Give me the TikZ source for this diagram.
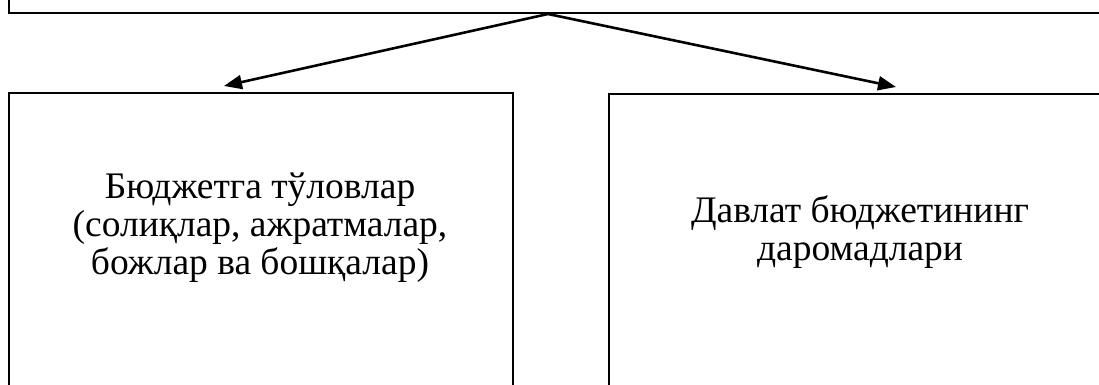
\documentclass[tikz,border=0pt]{standalone}
\usepackage{fontspec}
\setmainfont{Liberation Serif}
\usetikzlibrary{arrows.meta}
\tikzset{
  box/.style={draw=black, line width=2pt, fill=none, inner sep=0pt},
  txt/.style={align=center, font=\fontsize{37.5}{38}\selectfont, inner sep=0pt},
  arr/.style={line width=2.6pt, -{Triangle[length=18pt, width=14pt]}}
}
\begin{document}
\begin{tikzpicture}[x=1pt, y=-1pt]
\useasboundingbox (0,0) rectangle (1099,385);
\clip (0,0) rectangle (1099,385);
\node[box, minimum width=1200pt, minimum height=120pt, anchor=south west] (top) at (8,14) {};
\node[box, minimum width=504pt, minimum height=330pt, anchor=north west] (left) at (8,92) {};
\node[box, minimum width=504pt, minimum height=330pt, anchor=north west] (right) at (608,93) {};
\node[txt] (ltext) at (260,228) {Бюджетга тўловлар\\(солиқлар, ажратмалар,\\божлар ва бошқалар)};
\node[txt] (rtext) at (860,232) {Давлат бюджетининг\\даромадлари};
\coordinate (src) at (548,14);
\coordinate (ltip) at (224,86);
\coordinate (rtip) at (896,87);
\draw[arr] (src) -- (ltip);
\draw[arr] (src) -- (rtip);
\end{tikzpicture}
\end{document}
